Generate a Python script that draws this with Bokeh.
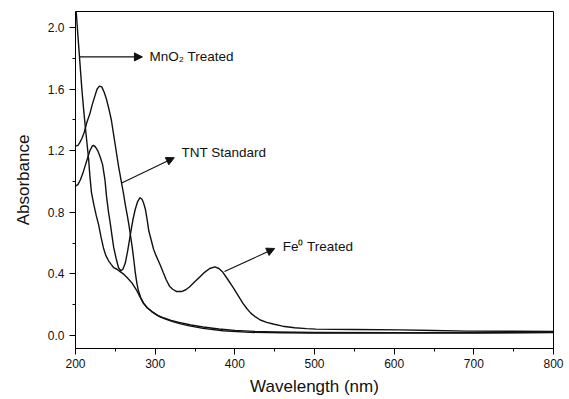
from bokeh.plotting import figure
from bokeh.models import (Range1d, SingleIntervalTicker, NumeralTickFormatter,
                          Arrow, NormalHead, ColumnDataSource)
from bokeh.embed import file_html
from bokeh.resources import INLINE
from bokeh.core.properties import value

# ---- data ----
tnt_nm = [200, 203, 205, 208, 211, 214, 218, 221, 224, 227, 230, 233, 236, 238.6,
          242, 245, 248, 251, 254, 257.5, 260, 262.5, 265, 267, 269, 271, 273, 275,
          277, 279, 282, 285.5, 290, 295.6, 300, 306, 314, 322, 332, 343, 360, 385,
          419, 460, 500, 600, 700, 800]
tnt_abs = [1.23, 1.235, 1.25, 1.28, 1.32, 1.38, 1.44, 1.50, 1.55, 1.60, 1.62, 1.615,
           1.58, 1.54, 1.47, 1.40, 1.30, 1.20, 1.10, 1.0, 0.93, 0.85, 0.78, 0.72,
           0.65, 0.58, 0.50, 0.41, 0.34, 0.29, 0.245, 0.21, 0.18, 0.155, 0.14, 0.12,
           0.105, 0.09, 0.075, 0.062, 0.046, 0.03, 0.02, 0.017, 0.016, 0.015, 0.016,
           0.019]

fe_nm = [200, 203, 206, 209, 212, 215, 218, 221, 222.5, 225, 228, 231, 234, 237,
         239, 241.5, 243.6, 246, 248, 251, 254, 257, 259.5, 262.5, 265.5, 269, 272,
         275, 278, 281, 283.5, 285.5, 287.7, 290, 292, 295, 298, 301, 304, 307, 310,
         314, 318, 322, 327, 333, 338, 343, 349, 356, 362, 368.5, 375, 380, 385, 391,
         398, 404, 410, 415, 420, 426, 432, 440, 448, 460, 475, 490, 502, 550, 607,
         650, 691, 750, 800]
fe_abs = [0.97, 0.98, 1.01, 1.05, 1.10, 1.15, 1.20, 1.23, 1.235, 1.225, 1.20, 1.16,
          1.11, 1.01, 0.90, 0.80, 0.73, 0.64, 0.57, 0.50, 0.44, 0.42, 0.43, 0.47,
          0.55, 0.66, 0.75, 0.82, 0.87, 0.895, 0.885, 0.86, 0.82, 0.75, 0.68, 0.62,
          0.56, 0.52, 0.485, 0.45, 0.41, 0.36, 0.32, 0.30, 0.285, 0.285, 0.295,
          0.315, 0.345, 0.38, 0.41, 0.435, 0.445, 0.435, 0.41, 0.365, 0.31, 0.26,
          0.21, 0.175, 0.145, 0.12, 0.10, 0.085, 0.074, 0.06, 0.05, 0.044, 0.041,
          0.038, 0.036, 0.032, 0.028, 0.027, 0.026]

mno2_nm = [200, 203, 205, 208, 210, 212.2, 214, 216.4, 218, 220, 223, 226, 229, 232,
           235, 238, 241.5, 245, 248, 252, 256, 260, 265, 271, 276, 281, 285, 290,
           296, 303, 310, 320, 330, 345, 360, 380, 400, 425, 450, 500, 600, 700, 800]
mno2_abs = [2.17, 1.95, 1.81, 1.60, 1.48, 1.36, 1.27, 1.15, 1.04, 0.93, 0.85, 0.78,
            0.72, 0.64, 0.57, 0.52, 0.485, 0.46, 0.44, 0.43, 0.415, 0.40, 0.375,
            0.34, 0.30, 0.25, 0.21, 0.18, 0.155, 0.13, 0.115, 0.098, 0.085, 0.068,
            0.055, 0.042, 0.033, 0.026, 0.022, 0.019, 0.018, 0.018, 0.02]

labels = ["MnO\u2082 Treated", "TNT Standard", "Fe\u2070 Treated"]
label_x = [293, 333, 460]
label_y = [1.81, 1.19, 0.575]
arrow_x0 = [205, 258, 387]
arrow_y0 = [1.81, 0.99, 0.415]
arrow_x1 = [284, 324, 450]
arrow_y1 = [1.81, 1.155, 0.565]

FONT = "Liberation Sans"

p = figure(width=569, height=399, output_backend="svg", toolbar_location=None,
           x_range=Range1d(200, 800), y_range=Range1d(-0.085, 2.105),
           min_border_left=75, min_border_right=16, min_border_top=11,
           min_border_bottom=51)
p.xgrid.visible = False
p.ygrid.visible = False
p.outline_line_color = "black"
p.outline_line_width = 1
p.background_fill_color = "white"
p.border_fill_color = "white"

lc = "#111111"
p.line(tnt_nm, tnt_abs, line_color=lc, line_width=1.4, line_join="round")
p.line(fe_nm, fe_abs, line_color=lc, line_width=1.4, line_join="round")
p.line(mno2_nm, mno2_abs, line_color=lc, line_width=1.4, line_join="round")

for i in range(3):
    p.add_layout(Arrow(end=NormalHead(size=8, fill_color=lc, line_color=lc),
                       x_start=arrow_x0[i], y_start=arrow_y0[i],
                       x_end=arrow_x1[i], y_end=arrow_y1[i],
                       line_color=lc, line_width=1.1))

src = ColumnDataSource(dict(x=label_x, y=label_y, t=labels))
p.text(x="x", y="y", text="t", source=src, text_font=value(FONT),
       text_font_size="13.5px", text_baseline="middle", text_align="left",
       text_color=lc)

p.xaxis.ticker = SingleIntervalTicker(interval=100, num_minor_ticks=2)
p.yaxis.ticker = SingleIntervalTicker(interval=0.4, num_minor_ticks=2)
p.yaxis.formatter = NumeralTickFormatter(format="0.0")
p.xaxis.formatter = NumeralTickFormatter(format="0")

for ax in (p.xaxis, p.yaxis):
    ax.axis_line_color = "black"
    ax.major_tick_line_color = "black"
    ax.minor_tick_line_color = "black"
    ax.major_tick_out = 6
    ax.major_tick_in = 0
    ax.minor_tick_out = 3
    ax.minor_tick_in = 0
    ax.major_label_text_font = FONT
    ax.major_label_text_font_size = "12px"
    ax.major_label_text_color = lc
    ax.axis_label_text_font = FONT
    ax.axis_label_text_font_style = "normal"
    ax.axis_label_text_font_size = "17px"
    ax.axis_label_text_color = lc

p.xaxis.axis_label = "Wavelength (nm)"
p.yaxis.axis_label = "Absorbance"
p.xaxis.major_label_standoff = 4
p.yaxis.major_label_standoff = 5
p.xaxis.axis_label_standoff = 6
p.yaxis.axis_label_standoff = 12

open("out.html", "w").write(file_html(p, INLINE))
